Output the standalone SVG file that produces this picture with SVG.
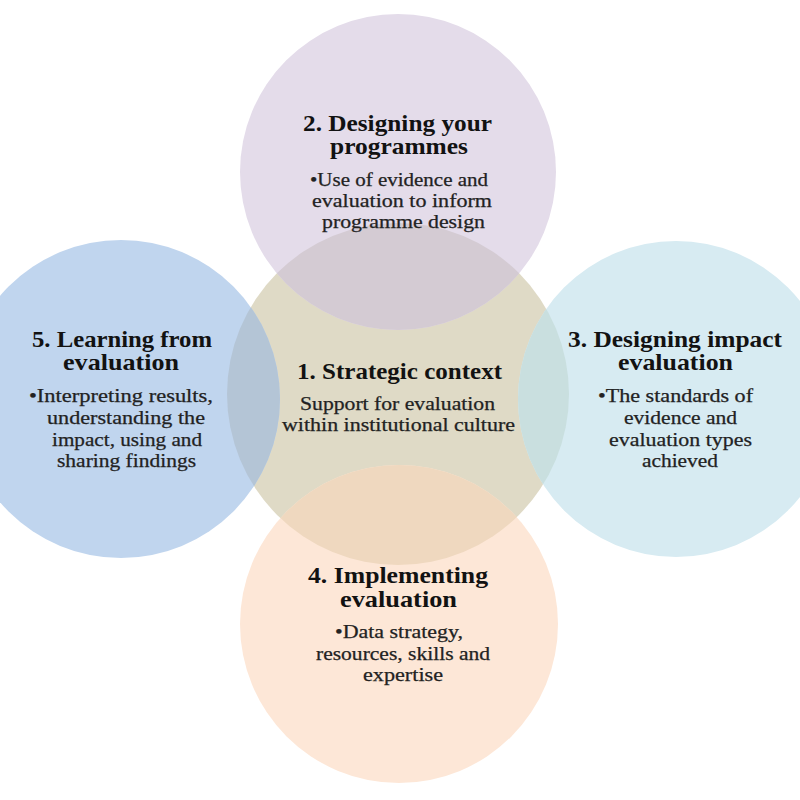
<svg xmlns="http://www.w3.org/2000/svg" width="800" height="800" viewBox="0 0 800 800">
<style>
.t{font-family:"Liberation Serif","Times New Roman",serif;font-weight:bold;font-size:23px;fill:#121212;text-anchor:middle}
.b{font-family:"Liberation Serif","Times New Roman",serif;font-size:18px;fill:#222222;text-anchor:middle;stroke:#222222;stroke-width:0.25}
</style>
<defs>
<clipPath id="clipC"><circle cx="398" cy="394" r="171"/></clipPath>
</defs>
<rect width="800" height="800" fill="#ffffff"/>
<g id="circles">
<circle id="c1" cx="398" cy="394" r="171" fill="#dfdac6"/>
<circle id="c2" cx="398" cy="172" r="158" fill="#e4dcea"/>
<circle id="c5" cx="121" cy="399" r="159" fill="#c0d5ee"/>
<circle id="c3" cx="676" cy="399" r="158" fill="#d7ebf2"/>
<circle id="c4" cx="399" cy="624" r="159" fill="#fde7d7"/>
<g clip-path="url(#clipC)">
<circle cx="398" cy="172" r="158" fill="#d4cbd3"/>
<circle cx="121" cy="399" r="159" fill="#b4c5d6"/>
<circle cx="676" cy="399" r="158" fill="#c9dfdf"/>
<circle cx="399" cy="624" r="159" fill="#efd8bf"/>
</g>
</g>
<g id="node1">
<text class="t" x="399.5" y="379" textLength="205" lengthAdjust="spacingAndGlyphs">1. Strategic context</text>
<text class="b" x="397.5" y="410" textLength="195" lengthAdjust="spacingAndGlyphs">Support for evaluation</text>
<text class="b" x="398.5" y="431" textLength="233" lengthAdjust="spacingAndGlyphs">within institutional culture</text>
</g>
<g id="node2">
<text class="t" x="397.5" y="131" textLength="189" lengthAdjust="spacingAndGlyphs">2. Designing your</text>
<text class="t" x="399" y="154" textLength="138" lengthAdjust="spacingAndGlyphs">programmes</text>
<text class="b" x="399" y="186" textLength="178" lengthAdjust="spacingAndGlyphs">•Use of evidence and</text>
<text class="b" x="402" y="207" textLength="180" lengthAdjust="spacingAndGlyphs">evaluation to inform</text>
<text class="b" x="403.5" y="228" textLength="163" lengthAdjust="spacingAndGlyphs">programme design</text>
</g>
<g id="node3">
<text class="t" x="675" y="347" textLength="214" lengthAdjust="spacingAndGlyphs">3. Designing impact</text>
<text class="t" x="675.5" y="370" textLength="115" lengthAdjust="spacingAndGlyphs">evaluation</text>
<text class="b" x="675.5" y="402" textLength="155" lengthAdjust="spacingAndGlyphs">•The standards of</text>
<text class="b" x="680.5" y="424" textLength="113" lengthAdjust="spacingAndGlyphs">evidence and</text>
<text class="b" x="680.5" y="446" textLength="143" lengthAdjust="spacingAndGlyphs">evaluation types</text>
<text class="b" x="680" y="467" textLength="76" lengthAdjust="spacingAndGlyphs">achieved</text>
</g>
<g id="node4">
<text class="t" x="398" y="583" textLength="180" lengthAdjust="spacingAndGlyphs">4. Implementing</text>
<text class="t" x="398.5" y="607" textLength="117" lengthAdjust="spacingAndGlyphs">evaluation</text>
<text class="b" x="399" y="638" textLength="128" lengthAdjust="spacingAndGlyphs">•Data strategy,</text>
<text class="b" x="403" y="660" textLength="174" lengthAdjust="spacingAndGlyphs">resources, skills and</text>
<text class="b" x="403" y="681" textLength="80" lengthAdjust="spacingAndGlyphs">expertise</text>
</g>
<g id="node5">
<text class="t" x="122" y="347" textLength="180" lengthAdjust="spacingAndGlyphs">5. Learning from</text>
<text class="t" x="121" y="370" textLength="116" lengthAdjust="spacingAndGlyphs">evaluation</text>
<text class="b" x="121" y="402" textLength="184" lengthAdjust="spacingAndGlyphs">•Interpreting results,</text>
<text class="b" x="126" y="424" textLength="158" lengthAdjust="spacingAndGlyphs">understanding the</text>
<text class="b" x="127" y="446" textLength="150" lengthAdjust="spacingAndGlyphs">impact, using and</text>
<text class="b" x="126.5" y="467" textLength="139" lengthAdjust="spacingAndGlyphs">sharing findings</text>
</g>
<g id="connectors"></g>
</svg>
